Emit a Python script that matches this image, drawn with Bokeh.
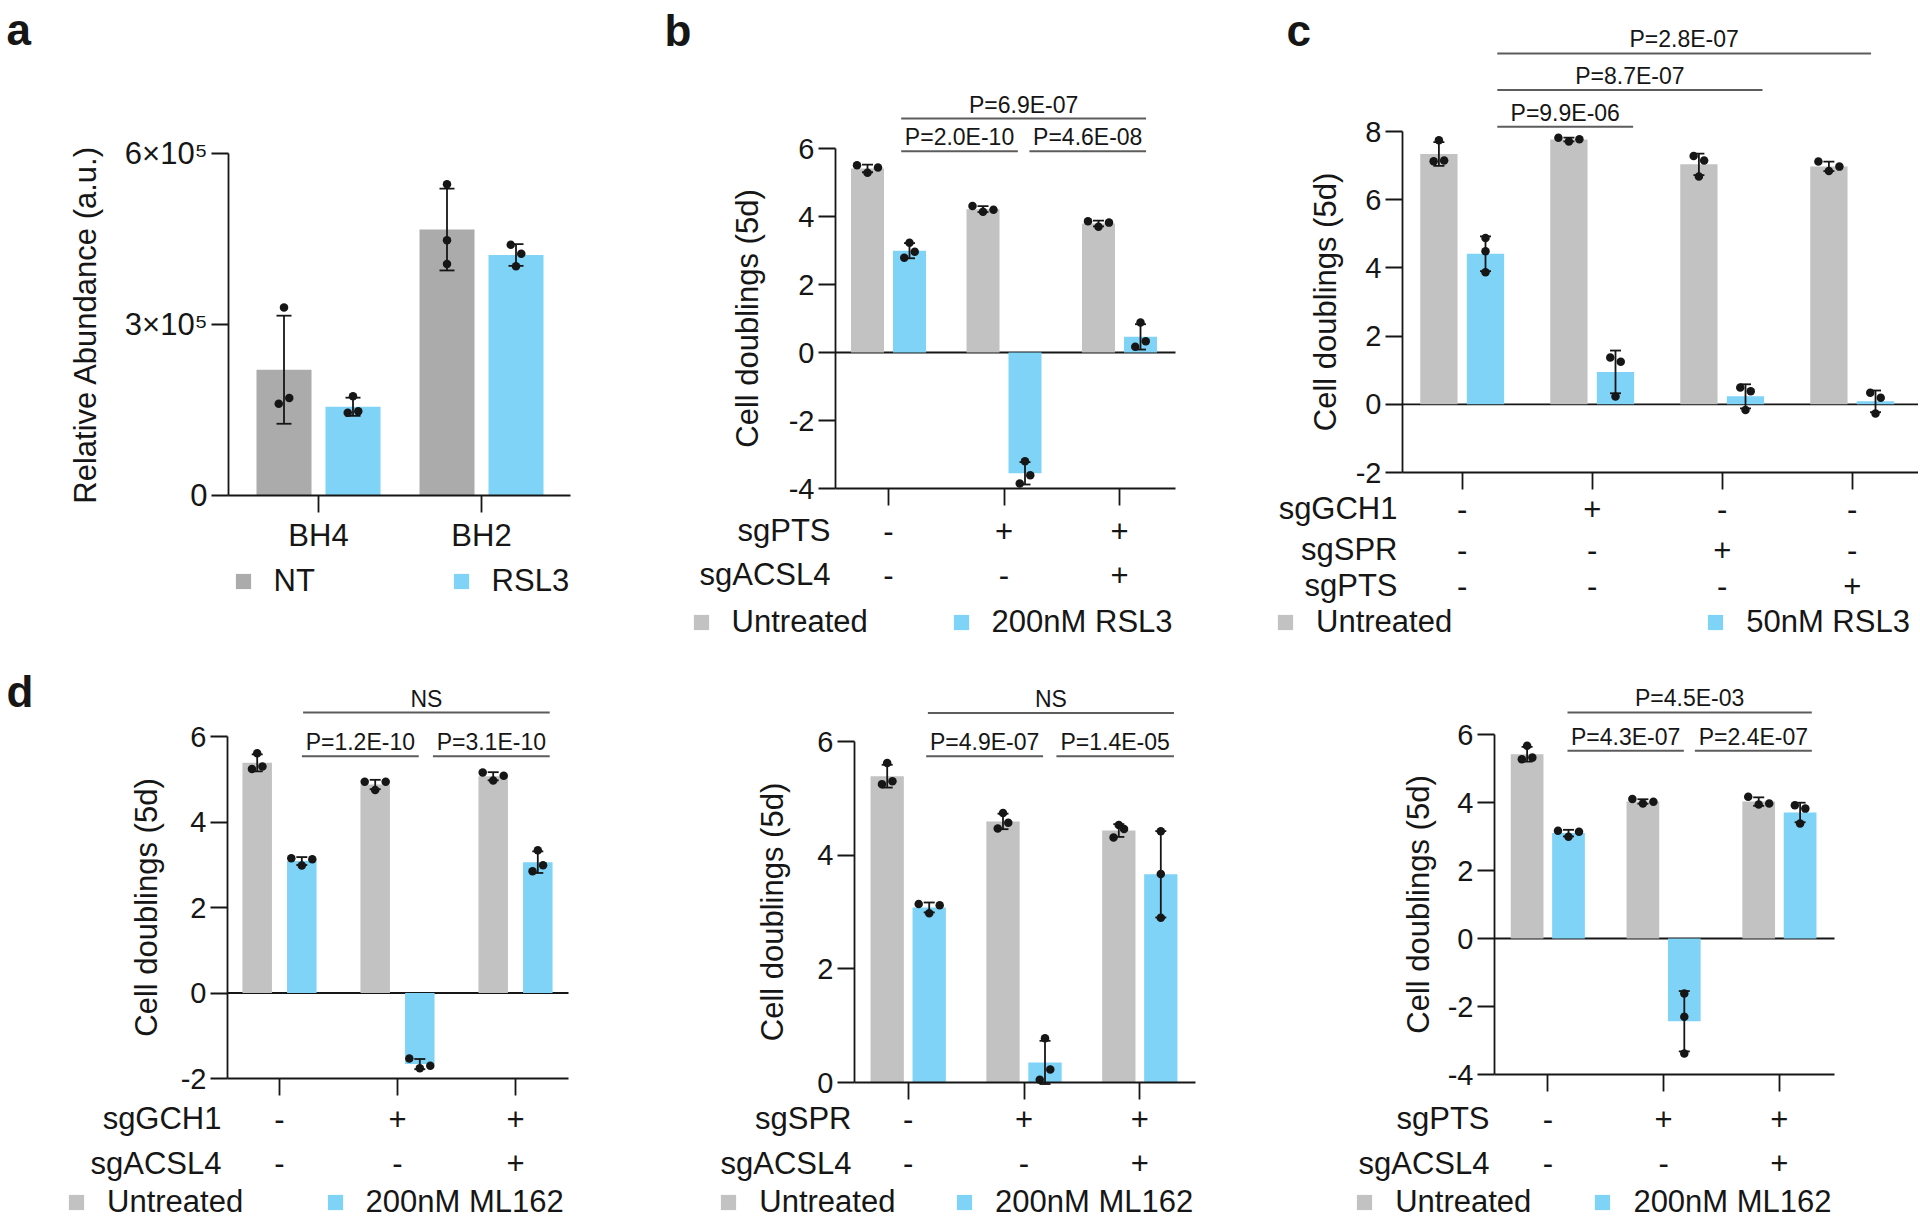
import math
from bokeh.plotting import figure
from bokeh.models import (Range1d, FixedTicker, Label, Legend, LegendItem, ColumnDataSource)
from bokeh.layouts import row, column
from bokeh.embed import file_html
from bokeh.resources import INLINE

FONT = "Liberation Sans"
INK = "#161616"
BRACKET_COLOR = "#5c5c5c"
GRAY_A = "#ababab"
GRAY = "#c2c2c2"
BLUE = "#7fd3f7"

# ---------------------------------------------------------------- data
# panel a
a_groups = ["BH4", "BH2"]
a_series = ["NT", "RSL3"]
a_nt = [[330000, 161000, 171000], [546000, 448000, 406000]]
a_rsl3 = [[174000, 145000, 148000], [440000, 424000, 402000]]
a_yticks = [0, 300000, 600000]
a_ytick_labels = ["0", "3×10⁵", "6×10⁵"]
a_ytitle = "Relative Abundance (a.u.)"

# panel b
b_series = ["Untreated", "200nM RSL3"]
b_rows = ["sgPTS", "sgACSL4"]
b_table = [["-", "+", "+"], ["-", "-", "+"]]
b_untreated = [[5.51, 5.29, 5.44], [4.31, 4.14, 4.20], [3.86, 3.70, 3.82]]
b_rsl3 = [[2.79, 3.23, 2.96], [-3.85, -3.20, -3.61], [0.17, 0.88, 0.33]]
b_yticks = [-4, -2, 0, 2, 4, 6]
b_pvals = ["P=6.9E-07", "P=2.0E-10", "P=4.6E-08"]

# panel c
c_series = ["Untreated", "50nM RSL3"]
c_rows = ["sgGCH1", "sgSPR", "sgPTS"]
c_table = [["-", "+", "-", "-"], ["-", "-", "+", "-"], ["-", "-", "-", "+"]]
c_untreated = [[7.13, 7.74, 7.15], [7.82, 7.71, 7.77], [7.28, 6.68, 7.15], [7.12, 6.84, 6.97]]
c_rsl3 = [[4.88, 4.49, 3.87], [1.37, 0.23, 1.25], [0.49, -0.17, 0.38], [0.34, -0.27, 0.19]]
c_yticks = [-2, 0, 2, 4, 6, 8]
c_pvals = ["P=9.9E-06", "P=8.7E-07", "P=2.8E-07"]

# panel d
d_series = ["Untreated", "200nM ML162"]
d_rows = ["sgGCH1", "sgACSL4"]
d_table = [["-", "+", "+"], ["-", "-", "+"]]
d_untreated = [[5.24, 5.61, 5.30], [4.94, 4.75, 4.94], [5.16, 4.97, 5.08]]
d_ml162 = [[3.15, 2.98, 3.13], [-1.53, -1.76, -1.70], [2.85, 3.34, 2.99]]
d_yticks = [-2, 0, 2, 4, 6]
d_pvals = ["NS", "P=1.2E-10", "P=3.1E-10"]

# panel e
e_series = ["Untreated", "200nM ML162"]
e_rows = ["sgSPR", "sgACSL4"]
e_table = [["-", "+", "+"], ["-", "-", "+"]]
e_untreated = [[5.25, 5.62, 5.30], [4.47, 4.74, 4.57], [4.31, 4.53, 4.46]]
e_ml162 = [[3.14, 2.98, 3.12], [0.05, 0.78, 0.23], [4.42, 3.67, 2.90]]
e_yticks = [0, 2, 4, 6]
e_pvals = ["NS", "P=4.9E-07", "P=1.4E-05"]

# panel f
f_series = ["Untreated", "200nM ML162"]
f_rows = ["sgPTS", "sgACSL4"]
f_table = [["-", "+", "+"], ["-", "-", "+"]]
f_untreated = [[5.27, 5.67, 5.32], [4.10, 3.97, 4.02], [4.17, 3.94, 3.97]]
f_ml162 = [[3.17, 2.99, 3.14], [-1.62, -2.30, -3.38], [3.92, 3.38, 3.82]]
f_yticks = [-4, -2, 0, 2, 4, 6]
f_pvals = ["P=4.5E-03", "P=4.3E-07", "P=2.4E-07"]

CELL_TITLE = "Cell doublings (5d)"


# ---------------------------------------------------------------- helpers
class Geo:
    """Page geometry of one panel, in page pixels."""
    def __init__(self, box, frame, g0, sp, off, bw, yr):
        self.box, self.frame, self.g0, self.sp, self.yr = box, frame, g0, sp, yr
        fx0, fy0, fx1, fy1 = frame
        self.ppy = (fy1 - fy0) / (yr[1] - yr[0])
        self.off = off / sp
        self.bw = bw / sp

    def x(self, px):
        return (px - self.g0) / self.sp

    def y(self, py):
        return self.yr[1] - (py - self.frame[1]) / self.ppy


def jitter_px(vals, ppy, thr=11.0, wide=10.5, narrow=5.25):
    n = len(vals)
    order = sorted(range(n), key=lambda i: vals[i])
    clusters, cur = [], [order[0]]
    for a, b in zip(order, order[1:]):
        if (vals[b] - vals[a]) * ppy < thr:
            cur.append(b)
        else:
            clusters.append(cur)
            cur = [b]
    clusters.append(cur)
    off = [0.0] * n
    for c in clusters:
        c = sorted(c)
        if len(c) == 2:
            pat = [-narrow, narrow]
        elif len(c) == 3:
            span = (max(vals[i] for i in c) - min(vals[i] for i in c)) * ppy
            s = wide if span < thr else narrow
            pat = [-s, 0.0, s]
        else:
            pat = [0.0] * len(c)
        for i, o in zip(c, pat):
            off[i] = o
    return off


def txt(p, x, y, text, size, align="center", bold=False):
    p.add_layout(Label(x=x, y=y, text=text, text_align=align, text_baseline="middle",
                       text_font=FONT, text_font_size=size, text_color=INK,
                       text_font_style="bold" if bold else "normal"))


def make_panel(geo, series, yticks, ytick_labels, ytitle, tick_size, title_standoff,
               xlabels=None, rows=None, table=None, row_right=None, row_ys=None,
               brackets=None, pvals=None, legends=None, letter=None, cap_px=11):
    bx0, by0, bx1, by1 = geo.box
    fx0, fy0, fx1, fy1 = geo.frame
    ylo, yhi = geo.yr
    n = len(series[0][2])
    p = figure(width=bx1 - bx0, height=by1 - by0,
               x_range=Range1d(geo.x(bx0), geo.x(bx1)),
               y_range=Range1d(geo.y(by1), geo.y(by0)),
               output_backend="svg", toolbar_location=None, title=None,
               min_border_left=0, min_border_right=0, min_border_top=0, min_border_bottom=0)
    p.outline_line_color = None
    p.xgrid.visible = False
    p.ygrid.visible = False
    p.background_fill_color = "white"
    p.border_fill_color = "white"

    for ax in (p.xaxis[0], p.yaxis[0]):
        ax.axis_line_width = 1.8
        ax.axis_line_color = INK
        ax.major_tick_line_width = 1.8
        ax.major_tick_line_color = INK
        ax.major_tick_out = 17
        ax.major_tick_in = 0
        ax.minor_tick_line_color = None
        ax.major_label_text_font = FONT
        ax.major_label_text_color = INK

    # y axis drawn at the left edge of the plotting area
    p.yaxis.fixed_location = geo.x(fx0)
    p.yaxis.bounds = (ylo, yhi)
    p.yaxis.ticker = FixedTicker(ticks=yticks)
    p.yaxis.major_label_overrides = dict(zip(yticks, ytick_labels))
    p.yaxis.major_label_text_font_size = tick_size
    p.yaxis.major_label_standoff = 4
    p.yaxis.axis_label = ytitle
    p.yaxis.axis_label_text_font = FONT
    p.yaxis.axis_label_text_font_size = "31px"
    p.yaxis.axis_label_text_font_style = "normal"
    p.yaxis.axis_label_text_color = INK
    p.yaxis.axis_label_standoff = title_standoff

    # x axis drawn at the bottom of the plotting area
    p.xaxis.fixed_location = ylo
    p.xaxis.bounds = (geo.x(fx0), geo.x(fx1))
    p.xaxis.ticker = FixedTicker(ticks=list(range(n)))
    if xlabels is None:
        p.xaxis.major_label_overrides = {i: "" for i in range(n)}
        p.xaxis.major_label_text_font_size = "0px"
    else:
        p.xaxis.major_label_overrides = {i: t for i, t in enumerate(xlabels)}
        p.xaxis.major_label_text_font_size = "31px"
        p.xaxis.major_label_standoff = 5

    if ylo < 0:
        p.segment(x0=[geo.x(fx0)], y0=[0], x1=[geo.x(fx1)], y1=[0],
                  line_color=INK, line_width=1.8)

    cw = cap_px / geo.sp
    stats = []
    for k, (name, color, data) in enumerate(series):
        sign = -1 if k == 0 else 1
        xc = [g + sign * geo.off for g in range(n)]
        means = [sum(v) / len(v) for v in data]
        sds = [math.sqrt(sum((x - m) ** 2 for x in v) / (len(v) - 1)) for v, m in zip(data, means)]
        src = ColumnDataSource(dict(x=xc, top=means,
                                    lo=[m - s for m, s in zip(means, sds)],
                                    hi=[m + s for m, s in zip(means, sds)],
                                    cl=[x - cw / 2 for x in xc], cr=[x + cw / 2 for x in xc]))
        p.vbar(x="x", top="top", bottom=0, width=geo.bw, source=src,
               fill_color=color, line_color=None)
        stats.append((src, xc, data))
    for src, xc, data in stats:
        p.segment(x0="x", y0="lo", x1="x", y1="hi", source=src, line_color=INK, line_width=1.8)
        p.segment(x0="cl", y0="hi", x1="cr", y1="hi", source=src, line_color=INK, line_width=1.8)
        p.segment(x0="cl", y0="lo", x1="cr", y1="lo", source=src, line_color=INK, line_width=1.8)
    for src, xc, data in stats:
        dx, dy = [], []
        for g, vals in enumerate(data):
            offs = jitter_px(vals, geo.ppy)
            for v, o in zip(vals, offs):
                dx.append(xc[g] + o / geo.sp)
                dy.append(v)
        p.scatter(x=dx, y=dy, size=8.5, fill_color=INK, line_color=None)

    # condition table under the x axis
    if rows is not None:
        for name, vals, py in zip(rows, table, row_ys):
            yy = geo.y(py)
            txt(p, geo.x(row_right), yy, name, "31px", align="right")
            for g, v in enumerate(vals):
                txt(p, g, yy, v, "31px")

    # significance brackets
    if brackets is not None:
        p.segment(x0=[b[0] for b in brackets], y0=[b[2] for b in brackets],
                  x1=[b[1] for b in brackets], y1=[b[2] for b in brackets],
                  line_color=BRACKET_COLOR, line_width=2)
        for (x0, x1, yb), label in zip(brackets, pvals):
            txt(p, (x0 + x1) / 2, yb + 14 / geo.ppy, label, "23px")

    # legend: one entry per series, under the table (swatch renderer kept off-canvas)
    hidden_x = geo.x(bx0) - 50
    for (name, color, data), (sq_left, yc) in zip(series, legends):
        r = p.scatter(x=[hidden_x], y=[0], marker="square", size=15,
                      fill_color=color, line_color=None)
        box_left = sq_left - 11.4
        leg = Legend(items=[LegendItem(label=name, renderers=[r])],
                     location=(box_left - bx0, by1 - yc - 19),
                     orientation="horizontal", glyph_width=38, glyph_height=38,
                     label_standoff=12, padding=0, margin=0, spacing=0,
                     border_line_color=None, background_fill_alpha=0,
                     label_text_font=FONT, label_text_font_size="31px",
                     label_text_color=INK, label_text_baseline="middle")
        p.add_layout(leg)

    if letter is not None:
        t, lx, ly = letter
        txt(p, geo.x(lx), geo.y(ly), t, "44px", align="left", bold=True)
    return p


# ---------------------------------------------------------------- panels
geo_a = Geo((0, 0, 620, 655), (228, 153, 570, 495), 318, 163, 34.5, 55, (0, 600000))
pa = make_panel(geo_a, [(a_series[0], GRAY_A, a_nt), (a_series[1], BLUE, a_rsl3)],
                a_yticks, a_ytick_labels, a_ytitle, "31px", 19, xlabels=a_groups,
                legends=[(235, 581), (453, 581)], letter=("a", 6, 29), cap_px=15)

geo_b = Geo((620, 0, 1230, 655), (835, 148, 1175, 488), 888, 115.5, 21, 33, (-4, 6))
pb = make_panel(geo_b, [(b_series[0], GRAY, b_untreated), (b_series[1], BLUE, b_rsl3)],
                b_yticks, [str(t) for t in b_yticks], CELL_TITLE, "29px", 21,
                rows=b_rows, table=b_table, row_right=830, row_ys=[530, 574],
                brackets=[(0.11, 2.23, 6.88), (0.11, 1.12, 5.92), (1.22, 2.23, 5.92)],
                pvals=b_pvals, legends=[(693, 621.5), (953, 621.5)], letter=("b", 664, 29.5))

geo_c = Geo((1230, 0, 1918, 655), (1402, 131, 1918, 472), 1461.7, 130, 23.3, 37.3, (-2, 8))
pc = make_panel(geo_c, [(c_series[0], GRAY, c_untreated), (c_series[1], BLUE, c_rsl3)],
                c_yticks, [str(t) for t in c_yticks], CELL_TITLE, "29px", 10,
                rows=c_rows, table=c_table, row_right=1397, row_ys=[508, 549, 585],
                brackets=[(0.27, 1.315, 8.14), (0.27, 2.31, 9.22), (0.27, 3.145, 10.29)],
                pvals=c_pvals, legends=[(1277.4, 621.5), (1707.6, 621.5)], letter=("c", 1286, 30))

geo_d = Geo((0, 655, 640, 1221), (227, 736, 568, 1078), 279, 118, 22.3, 29.5, (-2, 6))
pd_ = make_panel(geo_d, [(d_series[0], GRAY, d_untreated), (d_series[1], BLUE, d_ml162)],
                 d_yticks, [str(t) for t in d_yticks], CELL_TITLE, "29px", 14,
                 rows=d_rows, table=d_table, row_right=221, row_ys=[1118.3, 1162.5],
                 brackets=[(0.20, 2.29, 6.56), (0.19, 1.18, 5.54), (1.30, 2.29, 5.54)],
                 pvals=d_pvals, legends=[(68.4, 1201.5), (327, 1201.5)], letter=("d", 6, 690.5))

geo_e = Geo((640, 655, 1280, 1221), (854, 741, 1195, 1082), 907.7, 115.8, 21, 33.3, (0, 6))
pe = make_panel(geo_e, [(e_series[0], GRAY, e_untreated), (e_series[1], BLUE, e_ml162)],
                e_yticks, [str(t) for t in e_yticks], CELL_TITLE, "29px", 24,
                rows=e_rows, table=e_table, row_right=851, row_ys=[1118.3, 1162.7],
                brackets=[(0.17, 2.295, 6.50), (0.155, 1.165, 5.74), (1.28, 2.295, 5.74)],
                pvals=e_pvals, legends=[(720.7, 1201.5), (956.4, 1201.5)])

geo_f = Geo((1280, 655, 1918, 1221), (1494, 734, 1834, 1074), 1547.3, 115.8, 20.7, 32.7, (-4, 6))
pf = make_panel(geo_f, [(f_series[0], GRAY, f_untreated), (f_series[1], BLUE, f_ml162)],
                f_yticks, [str(t) for t in f_yticks], CELL_TITLE, "29px", 9,
                rows=f_rows, table=f_table, row_right=1489, row_ys=[1118.3, 1162.7],
                brackets=[(0.17, 2.28, 6.65), (0.17, 1.175, 5.52), (1.27, 2.28, 5.52)],
                pvals=f_pvals, legends=[(1356.6, 1201.5), (1594.8, 1201.5)])

layout = column(row(pa, pb, pc), row(pd_, pe, pf))
open("out.html", "w").write(file_html(layout, INLINE))
